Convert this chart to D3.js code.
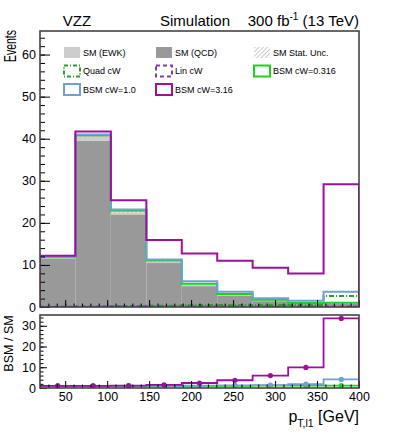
<!DOCTYPE html>
<html>
<head>
<meta charset="utf-8">
<script src="https://cdn.jsdelivr.net/npm/d3@7"></script>
<style>
  body { margin: 0; background: #fff; }
  text { font-family: "Liberation Sans", Arial, sans-serif; fill: #000; }
</style>
</head>
<body>
<div class="chart"></div>
<script>
// Bin edges of pT,l1 [GeV]
var binEdges = [20, 62.2, 104.4, 146.7, 188.9, 231.1, 273.3, 315.6, 357.8, 400];

// Event yields per bin
var smQCD = [11.5, 39.5, 22.0, 10.45, 4.95, 2.75, 1.4, 0.7, 0.75];
var smEWK = [0.3, 1.2, 0.45, 0.35, 0.3, 0.2, 0.15, 0.1, 0.12];
var smStatUnc = [0.12, 0.2, 0.15, 0.12, 0.1, 0.08, 0.06, 0.05, 0.05];
var quadCW = [0.02, 0.05, 0.15, 0.3, 0.45, 0.45, 0.45, 0.5, 2.6];
var linCW = [0.05, 0.1, 0.2, 0.1, 0.1, 0.08, 0.05, 0.05, 0.1];
var bsmCW0316 = [11.8, 40.8, 22.85, 11.05, 5.55, 3.1, 1.75, 0.95, 1.0];
var bsmCW1 = [11.9, 41.0, 23.2, 11.3, 6.1, 3.6, 2.1, 1.5, 3.6];
var bsmCW316 = [12.2, 41.7, 25.4, 15.9, 12.7, 11.0, 9.3, 7.95, 29.2];

var xTicks = [50, 100, 150, 200, 250, 300, 350, 400];
var yTicksMain = [0, 10, 20, 30, 40, 50, 60];
var yTicksRatio = [0, 10, 20, 30];

var colors = {
  ewk: "#cccccc",
  qcd: "#999999",
  quad: "#2f9a2f",
  lin: "#7a3fb8",
  b0316: "#1ed21e",
  b1: "#6fa0d6",
  b316: "#9c109c"
};

var svgWidth = 399;
var svgHeight = 442;

var svg = d3.select(".chart")
  .append("svg")
  .attr("width", svgWidth)
  .attr("height", svgHeight);

// panel geometry
var left = 40, right = 359;
var mainTop = 31, mainBottom = 307;
var ratioTop = 315, ratioBottom = 388;

var x = d3.scaleLinear().domain([20, 400]).range([left, right]);
var y = d3.scaleLinear().domain([0, 65.6]).range([mainBottom, mainTop]);
var yr = d3.scaleLinear().domain([0, 35.2]).range([ratioBottom, ratioTop]);

// hatch pattern for stat unc
var defs = svg.append("defs");
var pat = defs.append("pattern")
  .attr("id", "hatch")
  .attr("patternUnits", "userSpaceOnUse")
  .attr("width", 3).attr("height", 3)
  .attr("patternTransform", "rotate(45)");
pat.append("line")
  .attr("x1", 0).attr("y1", 0).attr("x2", 0).attr("y2", 3)
  .attr("stroke", "#777").attr("stroke-width", 0.8);

defs.append("clipPath").attr("id", "clipMain")
  .append("rect").attr("x", left).attr("y", mainTop)
  .attr("width", right - left).attr("height", mainBottom - mainTop);
defs.append("clipPath").attr("id", "clipRatio")
  .append("rect").attr("x", left).attr("y", ratioTop)
  .attr("width", right - left).attr("height", ratioBottom - ratioTop);

var bins = smQCD.map(function (d, i) {
  return { i: i, x0: binEdges[i], x1: binEdges[i + 1] };
});

// step outline of a histogram, closed down to zero at the ends
function stepPath(values, yScale) {
  var pts = [[binEdges[0], 0]];
  values.forEach(function (v, i) { pts.push([binEdges[i], v]); });
  pts.push([binEdges[binEdges.length - 1], values[values.length - 1]]);
  pts.push([binEdges[binEdges.length - 1], 0]);
  var p = "";
  pts.forEach(function (pt, k) {
    var px = x(pt[0]), py = yScale(pt[1]);
    if (k === 0) p += "M" + px + "," + py;
    else {
      var prev = pts[k - 1];
      p += "L" + px + "," + yScale(prev[1]) + "L" + px + "," + py;
    }
  });
  return p;
}

// ---------------- main panel ----------------
var mainG = svg.append("g").attr("clip-path", "url(#clipMain)");

mainG.selectAll(".qcd")
  .data(bins).enter().append("rect")
  .attr("x", d => x(d.x0))
  .attr("width", d => x(d.x1) - x(d.x0))
  .attr("y", d => y(smQCD[d.i]))
  .attr("height", d => y(0) - y(smQCD[d.i]))
  .attr("fill", colors.qcd);

mainG.selectAll(".ewk")
  .data(bins).enter().append("rect")
  .attr("x", d => x(d.x0))
  .attr("width", d => x(d.x1) - x(d.x0))
  .attr("y", d => y(smQCD[d.i] + smEWK[d.i]))
  .attr("height", d => y(smQCD[d.i]) - y(smQCD[d.i] + smEWK[d.i]))
  .attr("fill", colors.ewk);

mainG.selectAll(".unc")
  .data(bins).enter().append("rect")
  .attr("x", d => x(d.x0))
  .attr("width", d => x(d.x1) - x(d.x0))
  .attr("y", d => y(smQCD[d.i] + smEWK[d.i] + smStatUnc[d.i]))
  .attr("height", d => y(smQCD[d.i] + smEWK[d.i] - smStatUnc[d.i]) - y(smQCD[d.i] + smEWK[d.i] + smStatUnc[d.i]))
  .attr("fill", "url(#hatch)");

var mainLines = [
  { v: quadCW, c: colors.quad, dash: "5,2,1,2" },
  { v: linCW, c: colors.lin, dash: "4,3" },
  { v: bsmCW0316, c: colors.b0316, dash: null },
  { v: bsmCW1, c: colors.b1, dash: null },
  { v: bsmCW316, c: colors.b316, dash: null }
];
mainLines.forEach(function (s) {
  mainG.append("path")
    .attr("d", stepPath(s.v, y))
    .attr("fill", "none")
    .attr("stroke", s.c)
    .attr("stroke-width", 2)
    .attr("stroke-dasharray", s.dash);
});

// axes of main panel (ticks point inward)
function minorTicks(lo, hi, step) {
  var t = [];
  for (var v = lo; v <= hi + 1e-9; v += step) t.push(+v.toFixed(3));
  return t;
}

svg.append("g")
  .attr("transform", `translate(${left},0)`)
  .call(d3.axisLeft(y).tickValues(minorTicks(0, 64, 2)).tickSize(-5).tickFormat(""))
  .call(g => g.select(".domain").remove());
svg.append("g")
  .attr("transform", `translate(${left},0)`)
  .call(d3.axisLeft(y).tickValues(yTicksMain).tickSize(-10).tickPadding(4))
  .call(g => g.select(".domain").remove())
  .selectAll("text").style("font-size", "12.5px");

svg.append("g")
  .attr("transform", `translate(0,${mainBottom})`)
  .call(d3.axisBottom(x).tickValues(minorTicks(20, 400, 10)).tickSize(-3.5).tickFormat(""))
  .call(g => g.select(".domain").remove());
svg.append("g")
  .attr("transform", `translate(0,${mainBottom})`)
  .call(d3.axisBottom(x).tickValues(xTicks).tickSize(-7).tickFormat(""))
  .call(g => g.select(".domain").remove());

svg.append("rect")
  .attr("x", left).attr("y", mainTop)
  .attr("width", right - left).attr("height", mainBottom - mainTop)
  .attr("fill", "none").attr("stroke", "#444").attr("stroke-width", 1.6);

// ---------------- ratio panel ----------------
var ratioG = svg.append("g").attr("clip-path", "url(#clipRatio)");
var smTotal = smQCD.map((d, i) => d + smEWK[i]);

var ratioSeries = [
  { v: bsmCW0316, c: colors.b0316 },
  { v: bsmCW1, c: colors.b1 },
  { v: bsmCW316, c: colors.b316 }
];
ratioSeries.forEach(function (s) {
  var r = s.v.map((d, i) => d / smTotal[i]);
  ratioG.append("path")
    .attr("d", stepPath(r, yr))
    .attr("fill", "none")
    .attr("stroke", s.c)
    .attr("stroke-width", 1.8);
  ratioG.selectAll(null)
    .data(bins).enter().append("circle")
    .attr("cx", d => x((d.x0 + d.x1) / 2))
    .attr("cy", d => yr(r[d.i]))
    .attr("r", 2.6)
    .attr("fill", s.c);
});

svg.append("g")
  .attr("transform", `translate(${left},0)`)
  .call(d3.axisLeft(yr).tickValues(minorTicks(0, 34, 2)).tickSize(-3.5).tickFormat(""))
  .call(g => g.select(".domain").remove());
svg.append("g")
  .attr("transform", `translate(${left},0)`)
  .call(d3.axisLeft(yr).tickValues(yTicksRatio).tickSize(-7).tickPadding(4))
  .call(g => g.select(".domain").remove())
  .selectAll("text").style("font-size", "12.5px");

svg.append("g")
  .attr("transform", `translate(0,${ratioBottom})`)
  .call(d3.axisBottom(x).tickValues(minorTicks(20, 400, 10)).tickSize(-3.5).tickFormat(""))
  .call(g => g.select(".domain").remove());
svg.append("g")
  .attr("transform", `translate(0,${ratioBottom})`)
  .call(d3.axisBottom(x).tickValues(xTicks).tickSize(-7).tickPadding(4))
  .call(g => g.select(".domain").remove())
  .selectAll("text").style("font-size", "12.5px");

svg.append("rect")
  .attr("x", left).attr("y", ratioTop)
  .attr("width", right - left).attr("height", ratioBottom - ratioTop)
  .attr("fill", "none").attr("stroke", "#444").attr("stroke-width", 1.6);

// ---------------- legend ----------------
var legendItems = [
  { label: "SM (EWK)", type: "fill", c: colors.ewk },
  { label: "SM (QCD)", type: "fill", c: colors.qcd },
  { label: "SM Stat. Unc.", type: "hatch" },
  { label: "Quad cW", type: "line", c: colors.quad, dash: "4,2,1,2" },
  { label: "Lin cW", type: "line", c: colors.lin, dash: "4,3" },
  { label: "BSM cW=0.316", type: "line", c: colors.b0316 },
  { label: "BSM cW=1.0", type: "line", c: colors.b1 },
  { label: "BSM cW=3.16", type: "line", c: colors.b316 }
];
var colX = [63, 155, 253];
var rowY = [52.5, 71, 89.5];

var legend = svg.append("g").selectAll("g")
  .data(legendItems).enter().append("g")
  .attr("transform", (d, i) => `translate(${colX[i % 3]},${rowY[Math.floor(i / 3)]})`);

legend.each(function (d) {
  var g = d3.select(this);
  var box = g.append("rect")
    .attr("x", 1).attr("y", -5.5).attr("width", 16).attr("height", 11);
  if (d.type === "fill") box.attr("fill", d.c);
  else if (d.type === "hatch") box.attr("fill", "url(#hatch)");
  else box.attr("fill", "none").attr("stroke", d.c).attr("stroke-width", 2)
    .attr("stroke-dasharray", d.dash || null);
  g.append("text")
    .attr("x", 20).attr("y", 3.3)
    .style("font-size", "9px")
    .text(d.label);
});

// ---------------- labels ----------------
svg.append("text")
  .attr("x", 77).attr("y", 26)
  .attr("text-anchor", "middle")
  .style("font-size", "15px")
  .text("VZZ");

svg.append("text")
  .attr("x", 195).attr("y", 26)
  .attr("text-anchor", "middle")
  .style("font-size", "15px")
  .text("Simulation");

var lumi = svg.append("text")
  .attr("x", right).attr("y", 26)
  .attr("text-anchor", "end")
  .style("font-size", "15px");
lumi.append("tspan").text("300 fb");
lumi.append("tspan").attr("dy", -6).style("font-size", "10px").text("-1");
lumi.append("tspan").attr("dy", 6).text(" (13 TeV)");

svg.append("text")
  .attr("transform", `translate(16,${mainTop - 1}) rotate(-90)`)
  .attr("text-anchor", "end")
  .attr("textLength", 32)
  .attr("lengthAdjust", "spacingAndGlyphs")
  .style("font-size", "17px")
  .text("Events");

svg.append("text")
  .attr("transform", `translate(13,${(ratioTop + ratioBottom) / 2 - 8}) rotate(-90)`)
  .attr("text-anchor", "middle")
  .style("font-size", "12.5px")
  .text("BSM / SM");

var xt = svg.append("text")
  .attr("x", right).attr("y", 422)
  .attr("text-anchor", "end")
  .style("font-size", "16px");
xt.append("tspan").text("p");
xt.append("tspan").attr("dy", 5).style("font-size", "10.5px").text("T,l1");
xt.append("tspan").attr("dy", -5).text(" [GeV]");
</script>
</body>
</html>
